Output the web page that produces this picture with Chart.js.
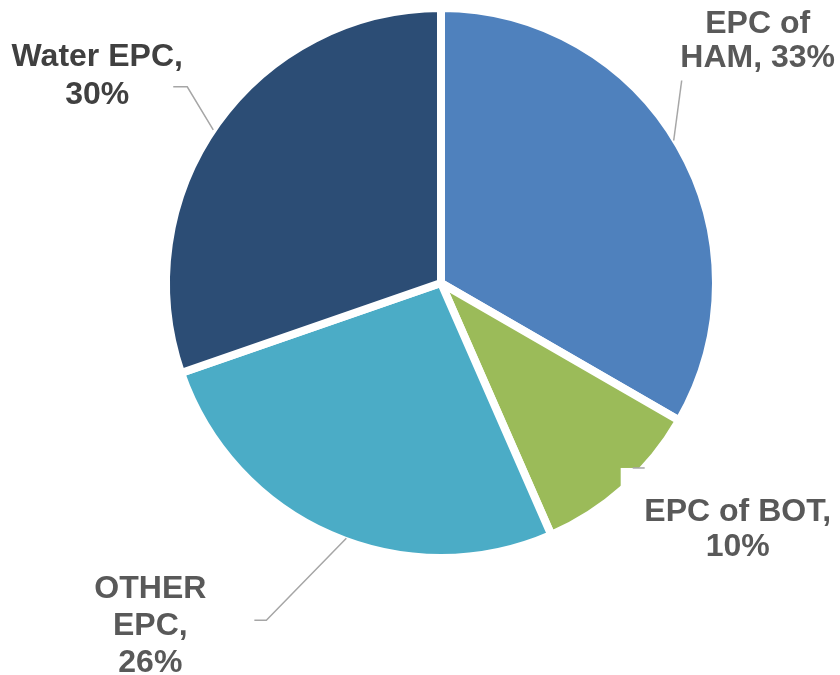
<!DOCTYPE html>
<html>
<head>
<meta charset="utf-8">
<script src="https://cdn.jsdelivr.net/npm/chart.js@4"></script>
<style>
  html, body { margin: 0; padding: 0; background: #fff; }
  #wrap { width: 840px; height: 675px; }
</style>
</head>
<body>
<div id="wrap"><canvas id="pie" width="840" height="675"></canvas></div>
<script>
// Slice data, clockwise from 12 o'clock
const categories = ['EPC of HAM', 'EPC of BOT', 'OTHER EPC', 'Water EPC'];
const shares = [33, 10, 26, 30];
const sliceColors = ['#4F81BD', '#9BBB59', '#4BACC6', '#2C4D75'];

// Label text lines as shown on the chart
const labelLines = [
    ['EPC of', 'HAM, 33%'],
    ['EPC of BOT,', '10%'],
    ['OTHER', 'EPC,', '26%'],
    ['Water EPC,', '30%']
];

// Label placement relative to the slice's outer mid-point (anchor)
const labelLayout = [
    { text: [82, -106], lh: 34, leader: [[-2, -7], [6, -67]], color: '#595959' },
    { text: [116, 45], lh: 35, leader: null, mask: [-1, -17, 46, 36], stub: [[11, -17], [23, -17]], color: '#595959' },
    { text: [-182, 95], lh: 37, leader: [[14, 7], [-66, 89], [-78, 89]], color: '#595959' },
    { text: [-123, -50], lh: 38, leader: [[-7, 4], [-33, -39], [-47, -39]], color: '#404040' }
];

const gapWidth = 8;

const labelPlugin = {
    id: 'sliceLabels',
    afterDatasetsDraw(chart) {
        const ctx = chart.ctx;
        const meta = chart.getDatasetMeta(0);
        ctx.save();
        meta.data.forEach(function(arc, i) {
            const p = arc.getProps(['x', 'y', 'startAngle', 'endAngle', 'outerRadius'], true);
            const mid = (p.startAngle + p.endAngle) / 2;
            const r = p.outerRadius - gapWidth / 2;
            const ax = p.x + Math.cos(mid) * r;
            const ay = p.y + Math.sin(mid) * r;
            const lay = labelLayout[i];

            // white box that hides part of the slice edge
            if (lay.mask) {
                ctx.fillStyle = '#ffffff';
                ctx.fillRect(ax + lay.mask[0], ay + lay.mask[1], lay.mask[2], lay.mask[3]);
            }

            ctx.strokeStyle = '#A6A6A6';
            ctx.lineWidth = 1.5;
            if (lay.leader) {
                ctx.beginPath();
                lay.leader.forEach(function(pt, k) {
                    if (k === 0) ctx.moveTo(ax + pt[0], ay + pt[1]);
                    else ctx.lineTo(ax + pt[0], ay + pt[1]);
                });
                ctx.stroke();
            }
            if (lay.stub) {
                ctx.beginPath();
                ctx.moveTo(ax + lay.stub[0][0], ay + lay.stub[0][1]);
                ctx.lineTo(ax + lay.stub[1][0], ay + lay.stub[1][1]);
                ctx.stroke();
            }

            const lines = labelLines[i];
            const cx = ax + lay.text[0];
            const cy = ay + lay.text[1];
            ctx.font = 'bold 32px "Liberation Sans", Arial, sans-serif';
            ctx.fillStyle = lay.color;
            ctx.textAlign = 'center';
            ctx.textBaseline = 'middle';
            lines.forEach(function(line, k) {
                ctx.fillText(line, cx, cy + (k - (lines.length - 1) / 2) * lay.lh);
            });
        });
        ctx.restore();
    }
};

new Chart(document.getElementById('pie'), {
    type: 'pie',
    data: {
        labels: categories,
        datasets: [{
            data: shares,
            backgroundColor: sliceColors,
            borderColor: '#ffffff',
            borderWidth: gapWidth,
            borderAlign: 'center',
            borderJoinStyle: 'miter'
        }]
    },
    options: {
        responsive: false,
        animation: false,
        radius: 275,
        layout: { padding: { left: 42, right: 0, top: 0, bottom: 109 } },
        plugins: {
            legend: { display: false },
            tooltip: { enabled: false }
        }
    },
    plugins: [labelPlugin]
});
</script>
</body>
</html>
